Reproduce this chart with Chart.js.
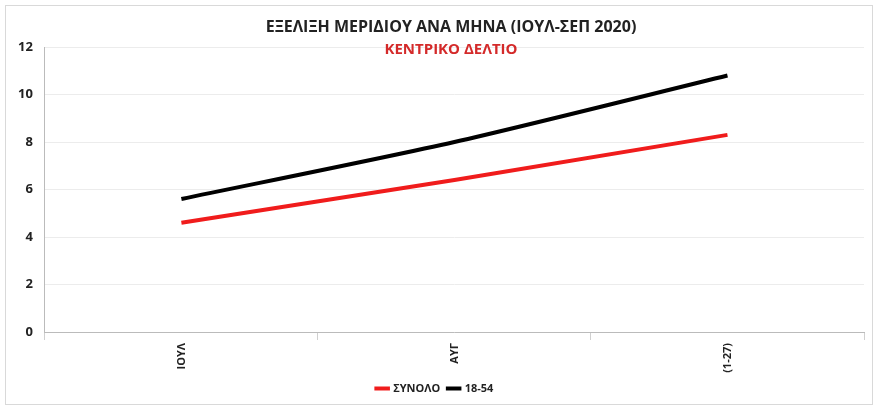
<!DOCTYPE html><html><head><meta charset="utf-8">
<script src="https://cdn.jsdelivr.net/npm/chart.js@4"></script>
<style>html,body{margin:0;background:#fff}#w{position:absolute;left:5px;top:5px;width:868px;height:400px;border:1px solid #d9d9d9;box-sizing:border-box}</style>
</head><body><div id="w"><canvas id="c"></canvas></div>
<script>
const categories=["ΙΟΥΛ","ΑΥΓ","ΣΕΠ (1-27)"];
const synolo=[4.6,6.4,8.3];
const age1854=[5.6,8.0,10.8];
const yTicks=[0,2,4,6,8,10,12];
const titles={
 id:'titles',
 afterDraw(ch){const c=ch.ctx;c.save();c.textAlign='center';c.textBaseline='middle';
  c.font='bold 16px "Open Sans", sans-serif';c.fillStyle='#222';c.fillText('ΕΞΕΛΙΞΗ ΜΕΡΙΔΙΟΥ ΑΝΑ ΜΗΝΑ (ΙΟΥΛ-ΣΕΠ 2020)',445,21);
  c.font='bold 15px "Open Sans", sans-serif';c.fillStyle='#d42a2a';c.fillText('ΚΕΝΤΡΙΚΟ ΔΕΛΤΙΟ',445,44);c.restore();}
};
new Chart(document.getElementById('c'),{type:'line',
 data:{labels:categories,datasets:[
  {label:'ΣΥΝΟΛΟ',data:synolo,borderColor:'#f01c1c',backgroundColor:'#f01c1c',borderWidth:4,pointRadius:0,tension:0},
  {label:'18-54',data:age1854,borderColor:'#000',backgroundColor:'#000',borderWidth:4,pointRadius:0,tension:0.25}]},
 options:{responsive:true,maintainAspectRatio:false,animation:false,
  layout:{padding:{top:41,right:8,left:0,bottom:0}},
  plugins:{legend:{position:'bottom',labels:{usePointStyle:true,pointStyle:'line',boxWidth:40,font:{size:11,weight:'bold',family:'"Open Sans"'},color:'#222',padding:8}},tooltip:{enabled:false}},
  scales:{
   x:{offset:true,afterFit(a){a.height=43;},grid:{display:true,drawOnChartArea:false,color:'#d0d0d0',offset:true},border:{color:'#bbb'},
      ticks:{minRotation:90,maxRotation:90,font:{size:11,weight:'bold',family:'"Open Sans"'},color:'#222'}},
   y:{min:0,max:12,afterBuildTicks(a){a.ticks=yTicks.map(v=>({value:v}));},grid:{color:'#ececec',drawTicks:false},border:{color:'#bbb'},
      ticks:{padding:12,font:{size:13,weight:'bold',family:'"Open Sans"'},color:'#222'}}}},
 plugins:[titles]});
</script></body></html>
